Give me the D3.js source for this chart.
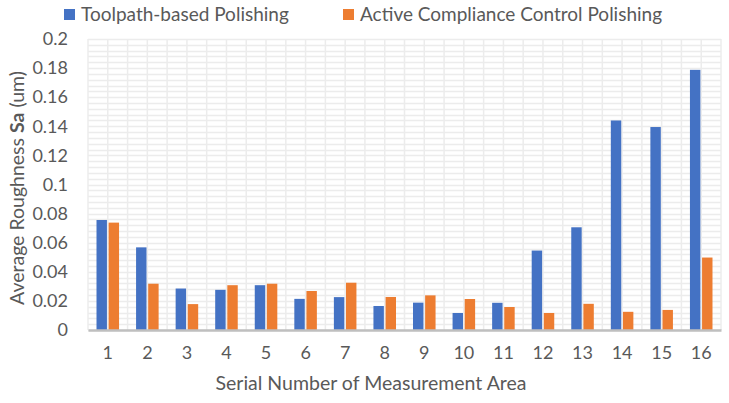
<!DOCTYPE html>
<html>
<head>
<meta charset="utf-8">
<script src="https://cdn.jsdelivr.net/npm/d3@7"></script>
<style>
  body { margin: 0; background: #fff; }
  text { font-family: Lato, "Open Sans", sans-serif; fill: #595959; }
</style>
</head>
<body>
<div id="chart"></div>
<script>
// measurement areas
const areas = ['1','2','3','4','5','6','7','8','9','10','11','12','13','14','15','16'];
const seriesNames = ['Toolpath-based Polishing', 'Active Compliance Control Polishing'];
const toolpath = [0.0756, 0.0568, 0.0285, 0.0276, 0.0308, 0.0214, 0.0226, 0.0165, 0.0188, 0.0117, 0.0187, 0.0546, 0.0706, 0.1440, 0.1395, 0.1788];
const compliance = [0.0738, 0.0318, 0.0178, 0.0308, 0.0318, 0.0268, 0.0325, 0.0227, 0.0238, 0.0213, 0.0158, 0.0117, 0.0180, 0.0125, 0.0138, 0.0498];
const yTicks = [0, 0.02, 0.04, 0.06, 0.08, 0.1, 0.12, 0.14, 0.16, 0.18, 0.2];
const colors = ['#4472C4', '#ED7D31'];

const width = 729, height = 403;
const margin = {top: 39, right: 8, bottom: 73, left: 88};
const graphWidth = width - margin.left - margin.right;
const graphHeight = height - margin.top - margin.bottom;

const svg = d3.select('#chart')
    .append('svg')
    .attr('width', width)
    .attr('height', height);

const graph = svg.append('g')
    .attr('transform', `translate(${margin.left}, ${margin.top})`);

const x = d3.scaleBand()
    .domain(areas)
    .range([0, graphWidth]);

const xSub = d3.scaleBand()
    .domain(seriesNames)
    .range([x.bandwidth() * 0.215, x.bandwidth() * 0.785])
    .paddingInner(0.14);

const y = d3.scaleLinear()
    .domain([0, 0.2])
    .range([graphHeight, 0]);

// minor horizontal gridlines
graph.append('g')
    .selectAll('line')
    .data(d3.range(0, 0.2001, 0.004))
    .enter()
    .append('line')
    .attr('x1', 0)
    .attr('x2', graphWidth)
    .attr('y1', d => Math.round(y(d)) + 0.5)
    .attr('y2', d => Math.round(y(d)) + 0.5)
    .attr('stroke', '#ececec')
    .attr('stroke-width', 1.5);

// vertical gridlines at each half category
graph.append('g')
    .selectAll('line')
    .data(d3.range(0, areas.length * 2 + 1))
    .enter()
    .append('line')
    .attr('x1', d => d * x.step() / 2)
    .attr('x2', d => d * x.step() / 2)
    .attr('y1', 0)
    .attr('y2', graphHeight)
    .attr('stroke', '#ececec')
    .attr('stroke-width', 1.5);

// bars
const rows = areas.map((a, i) => ({area: a, values: [toolpath[i], compliance[i]]}));
const groups = graph.selectAll('g.area')
    .data(rows)
    .enter()
    .append('g')
    .attr('class', 'area')
    .attr('transform', d => `translate(${x(d.area)}, 0)`);

groups.selectAll('rect')
    .data(d => d.values.map((v, k) => ({series: seriesNames[k], value: v, k: k})))
    .enter()
    .append('rect')
    .attr('x', d => xSub(d.series))
    .attr('width', xSub.bandwidth())
    .attr('y', d => y(d.value))
    .attr('height', d => graphHeight - y(d.value))
    .attr('fill', d => colors[d.k]);

// x axis
const xAxisGroup = graph.append('g')
    .attr('transform', `translate(0, ${graphHeight})`)
    .call(d3.axisBottom(x).tickSize(0).tickPadding(16));
xAxisGroup.select('.domain')
    .attr('stroke', '#bfbfbf')
    .attr('stroke-width', 2.5);
xAxisGroup.selectAll('text')
    .style('font-size', '18px')
    .style('font-family', 'Lato, sans-serif')
    .attr('fill', '#595959');

// y axis
const yAxisGroup = graph.append('g')
    .call(d3.axisLeft(y).tickValues(yTicks).tickSize(0).tickPadding(20).tickFormat(d => String(+d.toFixed(2))));
yAxisGroup.select('.domain').remove();
yAxisGroup.selectAll('text')
    .style('font-size', '18px')
    .style('font-family', 'Lato, sans-serif')
    .attr('fill', '#595959');

// axis titles
svg.append('text')
    .attr('x', 371)
    .attr('y', 390)
    .style('font-size', '19.5px')
    .style('text-anchor', 'middle')
    .text('Serial Number of Measurement Area');

const yTitle = svg.append('text')
    .attr('transform', `translate(24, 188) rotate(-90)`)
    .style('font-size', '19.5px')
    .style('text-anchor', 'middle');
yTitle.append('tspan').text('Average Roughness ');
yTitle.append('tspan').style('font-weight', 'bold').text('Sa');
yTitle.append('tspan').text(' (um)');

// legend
const legendX = [64, 343];
const legend = svg.selectAll('g.legend')
    .data(seriesNames)
    .enter()
    .append('g')
    .attr('class', 'legend')
    .attr('transform', (d, i) => `translate(${legendX[i]}, 9)`);
legend.append('rect')
    .attr('width', 11)
    .attr('height', 11)
    .attr('fill', (d, i) => colors[i]);
legend.append('text')
    .attr('x', 17)
    .attr('y', 11.5)
    .style('font-size', '19px')
    .text(d => d);
</script>
</body>
</html>
